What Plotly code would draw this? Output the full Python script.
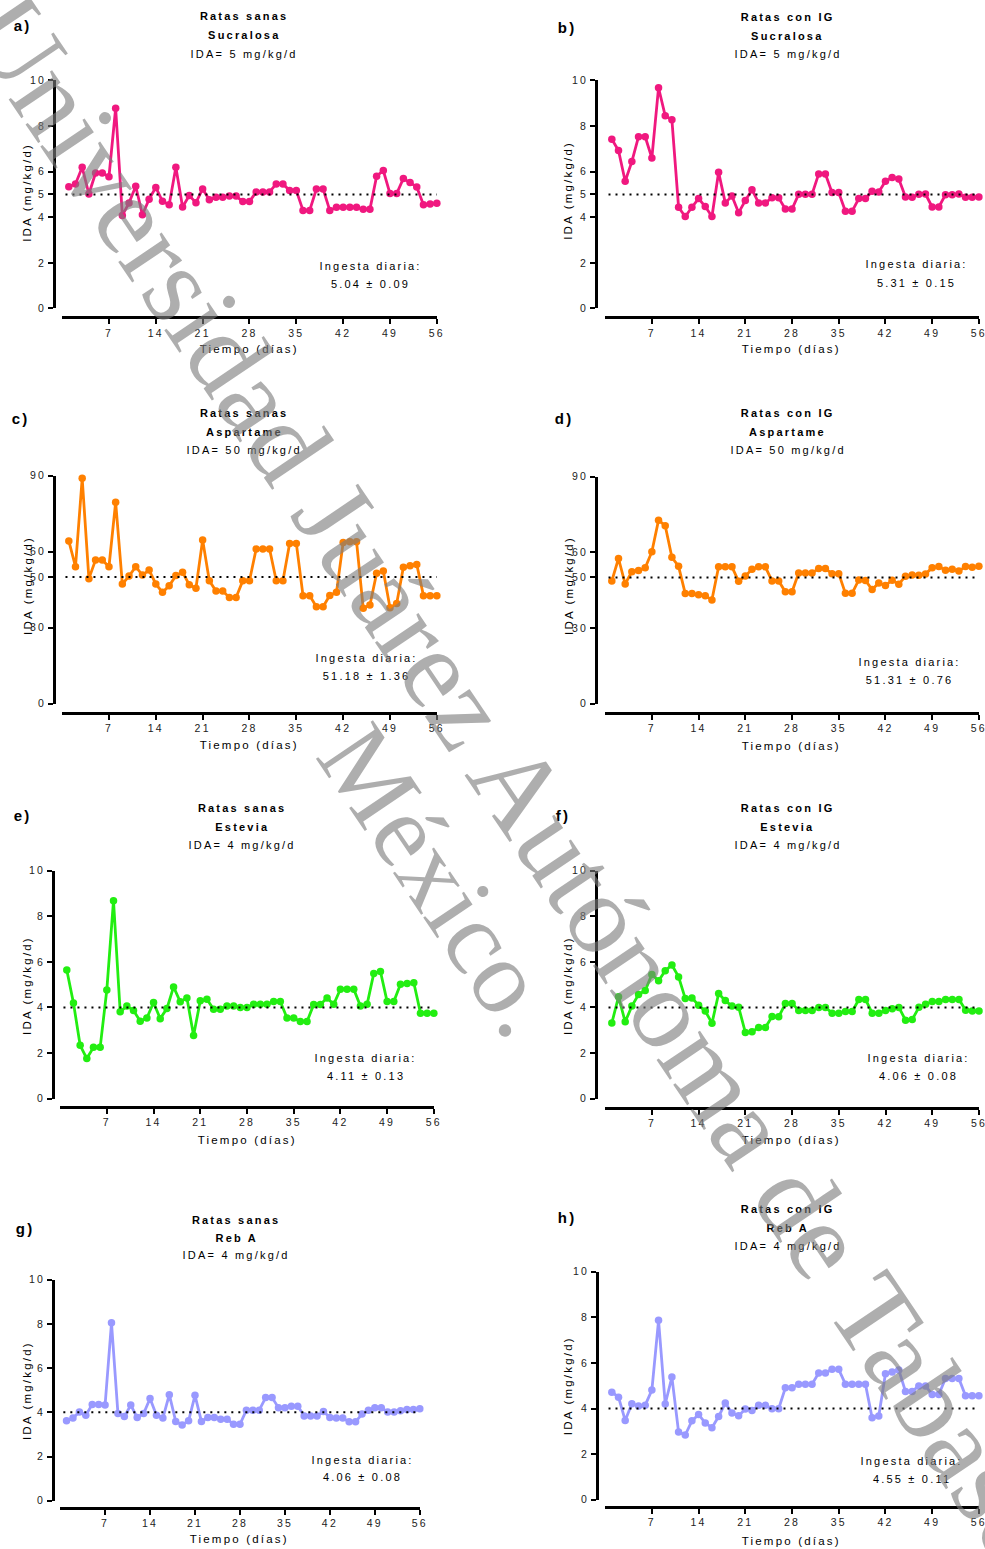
import plotly.graph_objects as go

W, H = 985, 1549

days = list(range(1, 57))
x_ticks = [7, 14, 21, 28, 35, 42, 49, 56]

sucralosa_sanas = [5.34, 5.46, 6.19, 5.02, 5.94, 5.94, 5.78, 8.78, 4.08, 4.63,
                   5.36, 4.11, 4.79, 5.31, 4.70, 4.55, 6.19, 4.45, 4.95, 4.64,
                   5.24, 4.77, 4.88, 4.88, 4.93, 4.93, 4.69, 4.69, 5.11, 5.11,
                   5.11, 5.46, 5.46, 5.17, 5.17, 4.30, 4.30, 5.24, 5.24, 4.30,
                   4.44, 4.44, 4.44, 4.44, 4.35, 4.35, 5.80, 6.05, 5.04, 5.04,
                   5.70, 5.52, 5.33, 4.55, 4.58, 4.61]
sucralosa_ig = [7.42, 6.93, 5.58, 6.44, 7.53, 7.53, 6.60, 9.68, 8.45, 8.27,
                4.44, 4.03, 4.44, 4.82, 4.47, 4.03, 5.97, 4.63, 4.93, 4.20,
                4.73, 5.21, 4.63, 4.63, 4.85, 4.85, 4.36, 4.36, 5.01, 5.01,
                5.01, 5.90, 5.90, 5.08, 5.08, 4.26, 4.26, 4.82, 4.82, 5.14,
                5.11, 5.58, 5.74, 5.68, 4.89, 4.88, 5.01, 5.02, 4.45, 4.45,
                4.99, 4.99, 5.02, 4.88, 4.88, 4.89]
aspartame_sanas = [64.2, 54.0, 88.9, 49.3, 56.7, 56.7, 54.0, 79.5, 47.2, 50.3,
                   54.0, 50.7, 52.7, 47.2, 43.9, 46.5, 50.5, 51.8, 46.9, 45.5,
                   64.6, 48.5, 44.4, 44.4, 41.9, 41.9, 48.5, 48.5, 61.0, 61.0,
                   61.0, 48.5, 48.5, 63.2, 63.2, 42.6, 42.6, 38.2, 38.2, 42.7,
                   43.9, 63.6, 63.9, 63.9, 37.6, 38.9, 51.4, 52.3, 37.8, 39.5,
                   53.8, 54.4, 54.9, 42.6, 42.6, 42.6]
aspartame_ig = [48.6, 57.5, 47.4, 52.3, 52.7, 53.8, 60.2, 72.7, 70.5, 58.0,
                54.4, 43.6, 43.6, 43.1, 42.7, 41.1, 54.2, 54.2, 54.2, 48.5,
                50.6, 53.2, 54.2, 54.2, 48.6, 48.6, 44.3, 44.3, 51.8, 51.8,
                51.8, 53.5, 53.5, 51.5, 51.5, 43.7, 43.7, 49.0, 48.8, 45.2,
                47.8, 46.8, 48.9, 47.3, 50.5, 51.0, 50.9, 51.4, 53.8, 54.3,
                52.8, 53.2, 52.6, 54.3, 54.0, 54.4]
estevia_sanas = [5.64, 4.20, 2.34, 1.76, 2.25, 2.25, 4.77, 8.68, 3.81, 4.06,
                 3.87, 3.40, 3.54, 4.22, 3.51, 3.95, 4.90, 4.25, 4.42, 2.77,
                 4.29, 4.36, 3.92, 3.92, 4.06, 4.06, 4.00, 4.00, 4.14, 4.14,
                 4.14, 4.26, 4.26, 3.54, 3.54, 3.38, 3.38, 4.13, 4.13, 4.42,
                 4.14, 4.80, 4.80, 4.80, 4.06, 4.14, 5.49, 5.58, 4.26, 4.26,
                 5.02, 5.05, 5.08, 3.75, 3.75, 3.75]
estevia_ig = [3.32, 4.47, 3.37, 4.06, 4.57, 4.74, 5.45, 5.17, 5.61, 5.86,
              5.34, 4.39, 4.42, 4.10, 3.84, 3.31, 4.61, 4.30, 4.06, 4.01,
              2.90, 2.94, 3.12, 3.12, 3.60, 3.59, 4.17, 4.17, 3.87, 3.87,
              3.87, 4.00, 4.00, 3.75, 3.75, 3.82, 3.82, 4.35, 4.35, 3.75,
              3.75, 3.87, 3.94, 4.00, 3.44, 3.47, 4.01, 4.14, 4.26, 4.26,
              4.35, 4.35, 4.35, 3.88, 3.84, 3.84]
reba_sanas = [3.62, 3.74, 4.02, 3.87, 4.36, 4.36, 4.33, 8.05, 3.95, 3.81,
              4.33, 3.77, 3.95, 4.63, 3.87, 3.74, 4.80, 3.59, 3.43, 3.62,
              4.77, 3.59, 3.77, 3.77, 3.69, 3.69, 3.46, 3.46, 4.10, 4.10,
              4.10, 4.67, 4.67, 4.21, 4.21, 4.28, 4.28, 3.84, 3.84, 3.84,
              4.04, 3.77, 3.74, 3.74, 3.57, 3.57, 3.92, 4.10, 4.21, 4.21,
              4.02, 4.02, 4.07, 4.13, 4.13, 4.16]
reba_ig = [4.72, 4.50, 3.48, 4.21, 4.11, 4.15, 4.81, 7.87, 4.20, 5.38,
           2.97, 2.84, 3.46, 3.74, 3.37, 3.16, 3.65, 4.24, 3.80, 3.68,
           3.98, 3.92, 4.14, 4.14, 3.99, 3.99, 4.91, 4.91, 5.07, 5.07,
           5.07, 5.56, 5.56, 5.72, 5.72, 5.07, 5.07, 5.07, 5.07, 3.60,
           3.67, 5.53, 5.60, 5.69, 4.75, 4.75, 4.99, 4.99, 4.62, 4.62,
           5.32, 5.32, 5.32, 4.56, 4.56, 4.56]

letters = ["a)", "b)", "c)", "d)", "e)", "f)", "g)", "h)"]
groups = ["Ratas sanas", "Ratas con IG"] * 4
sweeteners = ["Sucralosa", "Sucralosa", "Aspartame", "Aspartame",
              "Estevia", "Estevia", "Reb A", "Reb A"]
ida_values = [5, 5, 50, 50, 4, 4, 4, 4]
ingesta = ["5.04 ± 0.09", "5.31 ± 0.15", "51.18 ± 1.36", "51.31 ± 0.76",
           "4.11 ± 0.13", "4.06 ± 0.08", "4.06 ± 0.08", "4.55 ± 0.11"]
series = [sucralosa_sanas, sucralosa_ig, aspartame_sanas, aspartame_ig,
          estevia_sanas, estevia_ig, reba_sanas, reba_ig]
y_ticks_small = [0, 2, 4, 5, 6, 8, 10]
y_ticks_asp = [0, 30, 50, 60, 90]
y_ticks_4 = [0, 2, 4, 6, 8, 10]
watermark_1 = "Universidad Juárez Autónoma de Tabasco."
watermark_2 = "México."

colors = ["#f0187f", "#f0187f", "#ff8000", "#ff8000",
          "#22ee11", "#22ee11", "#9999ff", "#9999ff"]

# pixel geometry for each panel (target picture pixels)
geo = [
    dict(yx=54, yt=80, yb=308, xy=317, xl=62, xr=436, tx=244, ty=(16, 35, 54), lx=22, ly=25,
         atx=27, aty=192, xtx=249, xty=349, ix=370, iy=(266, 284)),
    dict(yx=595, yt=80, yb=308, xy=317, xl=604, xr=977, tx=786, ty=(17, 36, 54), lx=566, ly=27,
         atx=567, aty=190, xtx=790, xty=349, ix=915, iy=(264, 283)),
    dict(yx=54, yt=475, yb=703, xy=712, xl=62, xr=436, tx=244, ty=(412, 431, 449), lx=20, ly=418,
         atx=27, aty=585, xtx=249, xty=744, ix=366, iy=(657, 675)),
    dict(yx=595, yt=476, yb=703, xy=712, xl=604, xr=977, tx=786, ty=(412, 431, 449), lx=563, ly=418,
         atx=567, aty=585, xtx=790, xty=745, ix=908, iy=(661, 679)),
    dict(yx=53, yt=870, yb=1098, xy=1106, xl=60, xr=433, tx=242, ty=(807, 826, 844), lx=22, ly=815,
         atx=27, aty=985, xtx=247, xty=1139, ix=365, iy=(1057, 1075)),
    dict(yx=595, yt=870, yb=1098, xy=1107, xl=604, xr=978, tx=786, ty=(807, 826, 844), lx=562, ly=815,
         atx=567, aty=985, xtx=790, xty=1139, ix=917, iy=(1057, 1075)),
    dict(yx=53, yt=1279, yb=1500, xy=1507, xl=60, xr=419, tx=236, ty=(1219, 1237, 1254), lx=25, ly=1228,
         atx=27, aty=1390, xtx=239, xty=1538, ix=362, iy=(1459, 1476)),
    dict(yx=596, yt=1271, yb=1499, xy=1506, xl=604, xr=977, tx=786, ty=(1208, 1227, 1245), lx=566, ly=1217,
         atx=567, aty=1385, xtx=790, xty=1540, ix=910, iy=(1460, 1478)),
]

FONT = "Arial, Liberation Sans, sans-serif"

# empirical correction for how the page is photographed
SC = 0.992
OY = 5.6

def px(x):
    return min(1.0, (x / SC) / W)

def py(y):
    return max(0.0, 1 - ((y - OY) / SC) / H)

fig = go.Figure()
annotations = []
shapes = []
layout = {}

for i in range(8):
    g = geo[i]
    n = i + 1
    xa = "xaxis" if n == 1 else f"xaxis{n}"
    ya = "yaxis" if n == 1 else f"yaxis{n}"
    xr_ = "x" if n == 1 else f"x{n}"
    yr_ = "y" if n == 1 else f"y{n}"
    ymax = 90 if i in (2, 3) else 10
    if i in (2, 3):
        yt = y_ticks_asp
    elif i in (0, 1):
        yt = y_ticks_small
    else:
        yt = y_ticks_4

    fig.add_trace(go.Scatter(
        x=days, y=series[i], mode="lines+markers",
        line=dict(color=colors[i], width=2.8),
        marker=dict(color=colors[i], size=7.5),
        xaxis=xr_, yaxis=yr_, cliponaxis=False, showlegend=False,
        hoverinfo="x+y"))

    layout[xa] = dict(
        domain=[px(g["xl"]), px(g["xr"])], range=[0, 56], anchor="free",
        position=py(g["xy"]), showgrid=False, zeroline=False, showline=True,
        linecolor="black", linewidth=3, ticks="outside", ticklen=5,
        tickwidth=2, tickcolor="black", tickvals=x_ticks,
        tickfont=dict(family=FONT, size=10.5, color="#222"))
    layout[ya] = dict(
        domain=[py(g["yb"]), py(g["yt"])], range=[0, ymax], anchor="free",
        position=px(g["yx"]), showgrid=False, zeroline=False, showline=True,
        linecolor="black", linewidth=3, ticks="outside", ticklen=5,
        tickwidth=2, tickcolor="black", tickvals=yt,
        tickfont=dict(family=FONT, size=10.5, color="#222"))

    shapes.append(dict(type="line", xref=xr_, yref=yr_, x0=0.5, x1=56.3,
                       y0=ida_values[i], y1=ida_values[i],
                       line=dict(color="black", width=2, dash="2px,5px")))

    def ann(text, x, y, size=11, bold=False, angle=0):
        t = f"<b>{text}</b>" if bold else text
        annotations.append(dict(text=t, x=px(x), y=py(y), xref="paper", yref="paper",
                                showarrow=False, xanchor="center", yanchor="middle",
                                textangle=angle,
                                font=dict(family=FONT, size=size, color="black")))

    ann(groups[i], g["tx"], g["ty"][0], bold=True)
    ann(sweeteners[i], g["tx"], g["ty"][1], bold=True)
    ann(f"IDA= {ida_values[i]} mg/kg/d", g["tx"], g["ty"][2])
    ann(letters[i], g["lx"], g["ly"], size=15, bold=True)
    ann("IDA (mg/kg/d)", g["atx"], g["aty"], size=11.5, angle=-90)
    ann("Tiempo (días)", g["xtx"], g["xty"], size=11.5)
    ann("Ingesta diaria:", g["ix"], g["iy"][0], size=11)
    ann(ingesta[i], g["ix"], g["iy"][1], size=11)

# watermark
wm_color = "rgba(125,125,125,0.62)"
wm_family = "Liberation Serif, Times New Roman, serif"
annotations.append(dict(text=watermark_1,
                        x=px(535), y=py(812), xref="paper", yref="paper",
                        showarrow=False, textangle=56,
                        font=dict(family=wm_family, size=114, color=wm_color),
                        xanchor="center", yanchor="middle"))
annotations.append(dict(text=watermark_2,
                        x=px(440), y=py(880), xref="paper", yref="paper",
                        showarrow=False, textangle=56,
                        font=dict(family=wm_family, size=105, color=wm_color),
                        xanchor="center", yanchor="middle"))

fig.update_layout(
    width=W, height=H, margin=dict(l=0, r=0, t=0, b=0),
    paper_bgcolor="white", plot_bgcolor="white",
    annotations=annotations, shapes=shapes, **layout)

post = """
document.documentElement.style.margin = '0';
document.body.style.margin = '0';
document.body.style.overflow = 'hidden';
document.querySelectorAll('.main-svg text').forEach(function (t) {
  var fs = parseFloat(t.style.fontSize || '0');
  if (fs > 0 && fs < 30) { t.style.letterSpacing = '2.2px'; }
});
"""

fig.write_html("out.html", post_script=post, config={"displayModeBar": False})
